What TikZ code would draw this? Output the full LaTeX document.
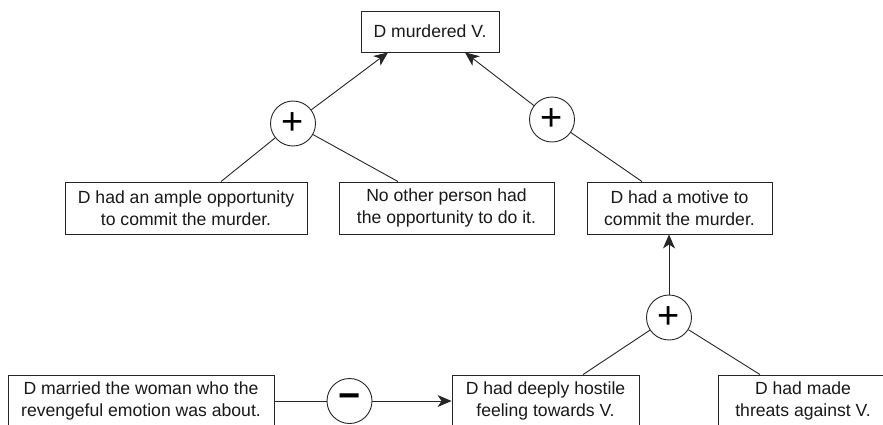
\documentclass[tikz,border=0pt]{standalone}
\usepackage{fontspec}
\setmainfont{Liberation Sans}
\usetikzlibrary{arrows.meta}

\tikzset{
  claim/.style={draw=black!85, line width=0.9pt, fill=white, align=center,
    inner sep=0pt, minimum height=52pt, text=black!90,
    font=\fontsize{17.6}{22}\selectfont},
  op/.style={draw=black!85, line width=0.9pt, circle, fill=white,
    minimum size=45pt, inner sep=0pt, text=black},
  link/.style={line width=0.9pt, draw=black!85},
  support/.style={link, -{Stealth[length=14pt,width=12pt,inset=4pt]}},
}

\begin{document}
\begin{tikzpicture}[x=1pt, y=-1pt]
  \clip (0,0) rectangle (883,424);

  % statements
  \node[claim, minimum width=138pt, minimum height=41pt] (top) at (430,31.5) {D murdered V.};
  \node[claim, minimum width=242pt] (opp)    at (186,208)   {D had an ample opportunity\\to commit the murder.};
  \node[claim, minimum width=215pt] (noone)  at (446.5,208) {No other person had\\the opportunity to do it.};
  \node[claim, minimum width=185pt] (motive) at (679.5,208) {D had a motive to\\commit the murder.};
  \node[claim, minimum width=266pt] (married) at (141,401)  {D married the woman who the\\revengeful emotion was about.};
  \node[claim, minimum width=187pt] (hostile) at (545.5,401) {D had deeply hostile\\feeling towards V.};
  \node[claim, minimum width=170pt] (threats) at (803,401)  {D had made\\threats against V.};

  % combination operators
  \node[op] (plusA) at (293,123.5) {\fontsize{38}{38}\selectfont +};
  \node[op] (plusB) at (552,119.5) {\fontsize{38}{38}\selectfont +};
  \node[op] (plusC) at (669,317.5) {\fontsize{38}{38}\selectfont +};
  \node[op] (minus) at (349.5,401) {\fontsize{38}{38}\selectfont\bfseries −};

  % opportunity branch
  \draw[link] (plusA) -- ([xshift=35pt]opp.north);
  \draw[link] (plusA) -- ([xshift=-48.5pt]noone.north);
  \draw[support] (plusA) -- ([xshift=-42pt]top.south);

  % motive branch
  \draw[link] (plusB) -- ([xshift=-37.5pt]motive.north);
  \draw[support] (plusB) -- ([xshift=35pt]top.south);

  % grounds for the motive
  \draw[link] (plusC) -- ([xshift=37.5pt]hostile.north);
  \draw[link] (plusC) -- ([xshift=-43pt]threats.north);
  \draw[support] (plusC) -- (plusC |- motive.south);

  % undercutting link
  \draw[link] (married.east) -- (minus);
  \draw[support] (minus) -- (hostile.west);
\end{tikzpicture}
\end{document}
